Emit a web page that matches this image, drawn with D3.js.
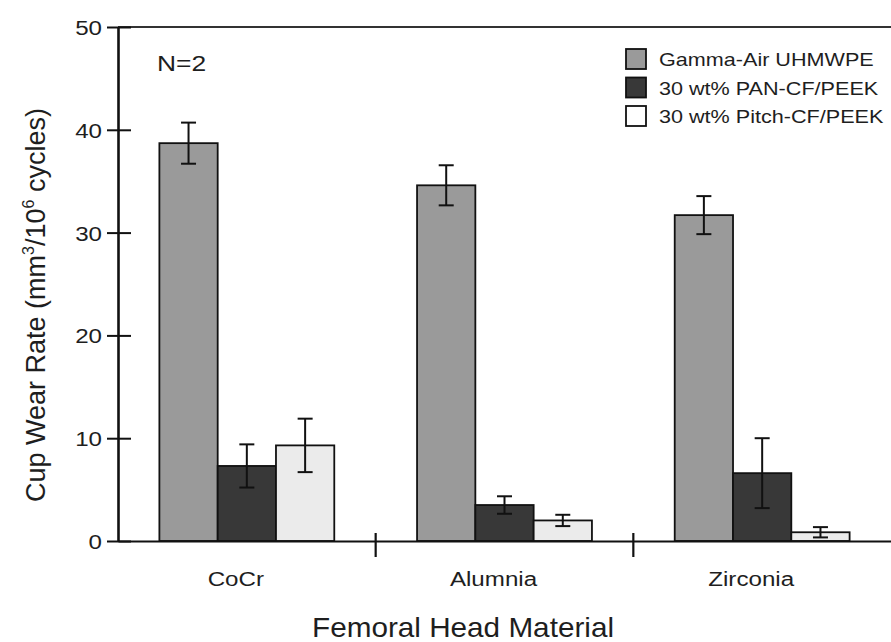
<!DOCTYPE html>
<html>
<head>
<meta charset="utf-8">
<script src="https://cdn.jsdelivr.net/npm/d3@7"></script>
<style>
  html, body { margin: 0; padding: 0; background: #fff; }
  svg { display: block; }
  text { font-family: "Liberation Sans", Arial, Helvetica, sans-serif; fill: #1e1e1e; }
</style>
</head>
<body>
<svg id="chart" width="891" height="642"></svg>
<script>
// Femoral head materials (x categories)
const categories = ["CoCr", "Alumnia", "Zirconia"];
// Cup materials (series)
const series = ["Gamma-Air UHMWPE", "30 wt% PAN-CF/PEEK", "30 wt% Pitch-CF/PEEK"];
// Mean cup wear rate, mm³/10⁶ cycles, per series across categories
const uhmwpeMean = [38.7, 34.6, 31.7];
const panMean    = [7.3, 3.5, 6.6];
const pitchMean  = [9.3, 2.0, 0.85];
// Error-bar half widths
const uhmwpeErr = [2.0, 1.95, 1.85];
const panErr    = [2.1, 0.85, 3.4];
const pitchErr  = [2.6, 0.55, 0.5];
// Y tick values
const yTicks = [0, 10, 20, 30, 40, 50];

const fills = ["#9a9a9a", "#383838", "#ebebeb"];
const legendFills = ["#9a9a9a", "#383838", "#ffffff"];
const means = [uhmwpeMean, panMean, pitchMean];
const errs = [uhmwpeErr, panErr, pitchErr];

const rows = [];
categories.forEach((c, ci) => {
  series.forEach((s, si) => {
    rows.push({ cat: c, ser: s, si, v: means[si][ci], e: errs[si][ci] });
  });
});

const svg = d3.select("#chart");
const plotLeft = 118, plotRight = 891, plotTop = 27, plotBottom = 541;
const sx = 1.15; // horizontal glyph stretch

const x0 = d3.scaleBand().domain(categories).range([plotLeft, plotRight]).paddingInner(0).paddingOuter(0);
const x1 = d3.scaleBand().domain(series).range([0, x0.bandwidth()]).paddingInner(0).paddingOuter(0.71);
const y = d3.scaleLinear().domain([0, 50]).range([plotBottom, plotTop]);

// Bars
const g = svg.append("g");
g.selectAll("rect.bar").data(rows).join("rect")
  .attr("class", "bar")
  .attr("x", d => x0(d.cat) + x1(d.ser))
  .attr("y", d => y(d.v))
  .attr("width", x1.bandwidth())
  .attr("height", d => y(0) - y(d.v))
  .attr("fill", d => fills[d.si])
  .attr("stroke", "#111")
  .attr("stroke-width", 1.8);

// Error bars
const eb = g.selectAll("g.err").data(rows).join("g").attr("class", "err")
  .attr("stroke", "#111").attr("stroke-width", 2);
const cx = d => x0(d.cat) + x1(d.ser) + x1.bandwidth() / 2;
eb.append("line").attr("x1", cx).attr("x2", cx)
  .attr("y1", d => y(d.v + d.e)).attr("y2", d => y(Math.max(0, d.v - d.e)));
eb.append("line").attr("x1", d => cx(d) - 7.5).attr("x2", d => cx(d) + 7.5)
  .attr("y1", d => y(d.v + d.e)).attr("y2", d => y(d.v + d.e));
eb.append("line").attr("x1", d => cx(d) - 7.5).attr("x2", d => cx(d) + 7.5)
  .attr("y1", d => y(Math.max(0, d.v - d.e))).attr("y2", d => y(Math.max(0, d.v - d.e)));

// Top frame line
svg.append("line").attr("x1", plotLeft).attr("x2", plotRight).attr("y1", y(50)).attr("y2", y(50))
  .attr("stroke", "#333").attr("stroke-width", 2.2);

// Y axis with crossing ticks
const yAxis = svg.append("g").attr("transform", `translate(${plotLeft},0)`)
  .call(d3.axisLeft(y).tickValues(yTicks).tickSize(11).tickSizeOuter(0).tickPadding(5));
yAxis.select(".domain").attr("stroke", "#111").attr("stroke-width", 2.6);
yAxis.selectAll(".tick line").attr("x1", -11).attr("x2", 13).attr("stroke", "#111").attr("stroke-width", 2);
yAxis.selectAll(".tick text")
  .attr("x", null).attr("dy", null)
  .attr("transform", "translate(-16,7.5) scale(" + sx + ",1)")
  .style("font-size", "21px").attr("fill", "#222");

// X axis: category labels, boundary ticks
const xAxis = svg.append("g").attr("transform", `translate(0,${plotBottom})`)
  .call(d3.axisBottom(x0).tickSize(0).tickSizeOuter(0).tickPadding(0));
xAxis.select(".domain").attr("stroke", "#111").attr("stroke-width", 2.2);
xAxis.selectAll(".tick text")
  .attr("y", null).attr("dy", null)
  .attr("transform", "translate(-11,45) scale(" + sx + ",1)")
  .style("font-size", "21px").attr("fill", "#222");
svg.append("g").selectAll("line").data(categories.slice(0, -1)).join("line")
  .attr("x1", d => x0(d) + x0.bandwidth()).attr("x2", d => x0(d) + x0.bandwidth())
  .attr("y1", plotBottom - 8).attr("y2", plotBottom + 16)
  .attr("stroke", "#111").attr("stroke-width", 2.2);

// Axis titles
svg.append("text")
  .attr("transform", "translate(463,637) scale(1.1,1)")
  .attr("text-anchor", "middle").style("font-size", "27px")
  .text("Femoral Head Material");

const yt = svg.append("text")
  .attr("transform", "translate(45,305) rotate(-90)")
  .attr("text-anchor", "middle").style("font-size", "27px");
yt.append("tspan").text("Cup Wear Rate (mm");
yt.append("tspan").attr("dy", -11).style("font-size", "16px").text("3");
yt.append("tspan").attr("dy", 11).text("/10");
yt.append("tspan").attr("dy", -11).style("font-size", "16px").text("6");
yt.append("tspan").attr("dy", 11).text(" cycles)");

// Sample size annotation
svg.append("text")
  .attr("transform", "translate(157,71) scale(1.2,1)")
  .style("font-size", "22px").text("N=2");

// Legend
const lg = svg.append("g").attr("transform", "translate(626,49)");
const li = lg.selectAll("g").data(series).join("g")
  .attr("transform", (d, i) => `translate(0,${i * 28.5})`);
li.append("rect").attr("width", 20).attr("height", 20)
  .attr("fill", (d, i) => legendFills[i]).attr("stroke", "#111").attr("stroke-width", 1.8);
li.append("text")
  .attr("transform", "translate(33,17) scale(1.2,1)")
  .style("font-size", "18px").attr("fill", "#222")
  .text(d => d);
</script>
</body>
</html>
